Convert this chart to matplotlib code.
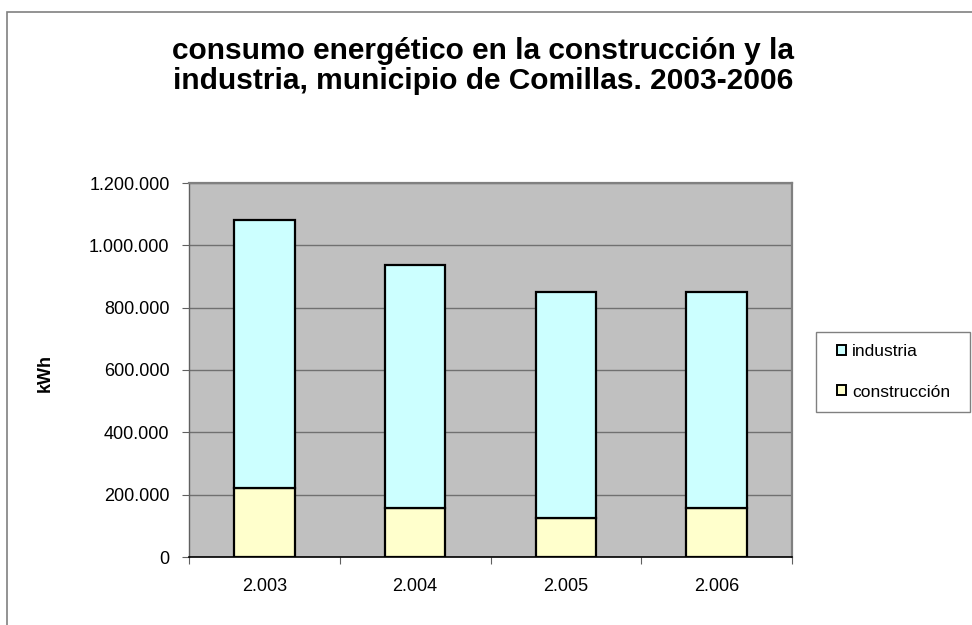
import matplotlib
matplotlib.use("Agg")
import matplotlib.pyplot as plt
from matplotlib.patches import Rectangle, Patch
from matplotlib.ticker import FuncFormatter, FixedLocator, NullFormatter

plt.rcParams['font.family'] = ['Liberation Sans', 'DejaVu Sans']

years = ["2.003", "2.004", "2.005", "2.006"]
construccion = [221000, 158000, 126000, 158000]
industria = [860000, 779000, 725000, 691000]
series_names = ["industria", "construcción"]
title = "consumo energético en la construcción y la\nindustria, municipio de Comillas. 2003-2006"
y_label = "kWh"

W, H = 972, 625
fig = plt.figure(figsize=(W / 100, H / 100), dpi=100)
fig.patch.set_facecolor("white")

# outer chart-area border
fig.patches.append(Rectangle((7 / W, -0.05), 1.2, 1 - 12 / H + 0.05,
                             transform=fig.transFigure, fill=False,
                             edgecolor="#808080", linewidth=1.2))

left, right, top, bottom = 189, 792, 183, 557
ax = fig.add_axes([left / W, 1 - bottom / H, (right - left) / W, (bottom - top) / H])
ax.set_facecolor("#C0C0C0")

x = list(range(len(years)))
bar_w = 0.4
ax.bar(x, construccion, width=bar_w, color="#FFFFCC", edgecolor="black",
       linewidth=1.6, zorder=3)
ax.bar(x, industria, width=bar_w, bottom=construccion, color="#CCFFFF",
       edgecolor="black", linewidth=1.6, zorder=3)

ax.set_xlim(-0.5, len(years) - 0.5)
ax.set_ylim(0, 1200000)
ax.set_yticks(range(0, 1200001, 200000))

def miles(v, pos):
    return f"{int(v):,}".replace(",", ".")

ax.yaxis.set_major_formatter(FuncFormatter(miles))
ax.yaxis.grid(True, color="#707070", linewidth=1.0, zorder=1)
ax.set_axisbelow(True)

ax.set_xticks(x)
ax.set_xticklabels(years)
ax.xaxis.set_minor_locator(FixedLocator([i - 0.5 for i in range(len(years) + 1)]))
ax.xaxis.set_minor_formatter(NullFormatter())
ax.tick_params(axis="x", which="major", length=0, pad=15, labelsize=13)
ax.tick_params(axis="x", which="minor", length=5, width=0.8, color="#606060")
ax.tick_params(axis="y", which="major", length=5, width=0.8, color="#606060",
               labelsize=13, pad=9)

for s in ("top", "right"):
    ax.spines[s].set_color("#808080")
    ax.spines[s].set_linewidth(1.6)
ax.spines["left"].set_color("#606060")
ax.spines["left"].set_linewidth(1.0)
ax.spines["bottom"].set_color("black")
ax.spines["bottom"].set_linewidth(1.2)

fig.text(45 / W, 1 - 373 / H, y_label, rotation=90, ha="center", va="center",
         fontsize=13, fontweight="bold")

fig.text(483 / W, 1 - 66 / H, title, ha="center", va="center", fontsize=21.5,
         fontweight="bold", linespacing=1.12)

# legend box
fig.patches.append(Rectangle((816 / W, 1 - 412 / H), (970 - 816) / W, 80 / H,
                             transform=fig.transFigure, facecolor="white",
                             edgecolor="#808080", linewidth=1.0))
handles = [Patch(facecolor="#CCFFFF", edgecolor="black", linewidth=1.4),
           Patch(facecolor="#FFFFCC", edgecolor="black", linewidth=1.4)]
fig.legend(handles, series_names, loc="center left",
           bbox_to_anchor=(837 / W, 1 - 372 / H), frameon=False, fontsize=12.5,
           handlelength=0.5, handleheight=0.5, handletextpad=0.35,
           labelspacing=1.45, borderpad=0, borderaxespad=0)

fig.savefig("out.png", dpi=100)
